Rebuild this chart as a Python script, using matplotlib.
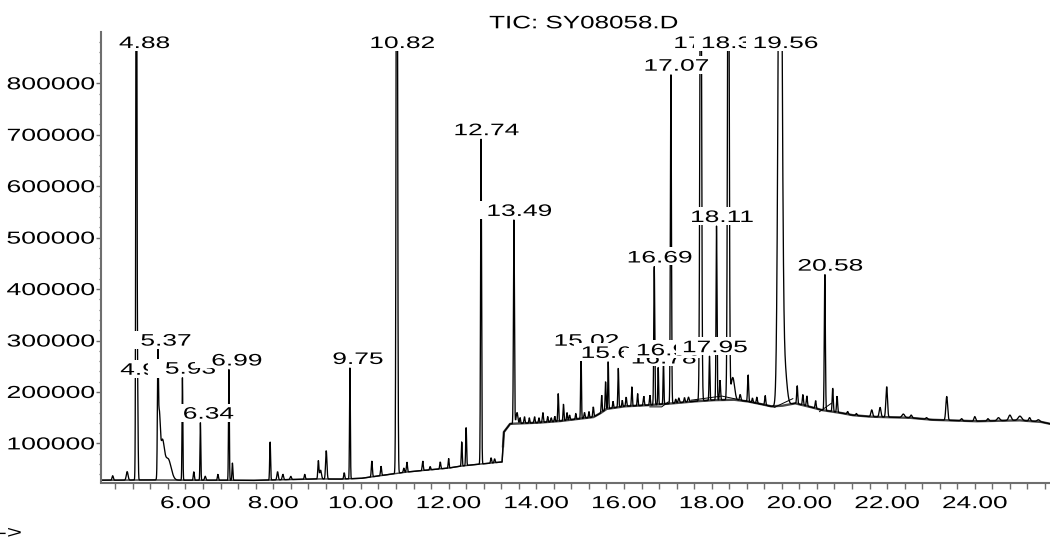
import numpy as np
import matplotlib
matplotlib.use("Agg")
import matplotlib.pyplot as plt
from matplotlib.patches import Rectangle
from matplotlib.patheffects import AbstractPathEffect
from matplotlib.transforms import (Affine2D, Bbox, TransformedBbox,
                                   ScaledTranslation)
from matplotlib.ticker import FixedLocator, MultipleLocator, FuncFormatter

plt.rcParams["font.family"] = ["Liberation Sans", "DejaVu Sans"]

# ---- total ion current: slowly drifting baseline (min, abundance) ----
base_times = [4.07, 4.5, 5.0, 6.0, 7.0, 7.5, 8.0, 8.5, 9.0, 9.5, 10.0, 10.5,
              11.0, 11.5, 12.0, 12.2, 12.5, 13.0, 13.22, 13.26, 13.4, 14.0,
              14.5, 15.0, 15.3, 15.45, 15.6, 16.0, 16.5, 17.0, 17.5, 18.0,
              18.5, 18.8, 19.1, 19.35, 19.6, 19.9, 20.2, 20.5, 20.9, 21.2,
              21.6, 22.5, 23.0, 24.0, 25.0, 25.5, 25.72]
base_levels = [28500, 28500, 29000, 28500, 28500, 28000, 29000, 30000, 31000,
               30500, 32000, 38000, 44000, 48000, 52000, 55000, 58000, 62000,
               64000, 122000, 138000, 140000, 143000, 148000, 151000, 158000,
               167000, 172000, 174000, 177000, 181000, 184000, 185000, 182000,
               177000, 172000, 173000, 178000, 172000, 165000, 160000, 155000,
               152000, 150000, 146000, 143000, 145000, 142000, 138000]

# ---- peaks: retention time (min), apex abundance, gaussian sigma (min) ----
peak_times = [4.34, 4.67, 4.88, 4.91, 5.37, 5.40, 5.47, 5.60, 5.93, 6.19,
              6.34, 6.45, 6.74, 6.99, 7.07, 7.93, 8.10, 8.22, 8.40, 8.72,
              9.03, 9.08, 9.21, 9.62, 9.75, 10.25, 10.46, 10.82, 10.98, 11.05,
              11.41, 11.58, 11.81, 12.00, 12.30, 12.40, 12.74, 12.97, 13.05,
              13.49, 13.56, 13.63, 13.73, 13.84, 13.96, 14.06, 14.15, 14.26,
              14.34, 14.42, 14.50, 14.62, 14.70, 14.76, 14.90, 15.02, 15.10,
              15.20, 15.30, 15.49, 15.58, 15.64, 15.75, 15.87, 15.96, 16.05,
              16.18, 16.31, 16.45, 16.59, 16.69, 16.78, 16.90, 17.07, 17.18,
              17.25, 17.38, 17.47, 17.75, 17.95, 18.11, 18.19, 18.38, 18.48,
              18.65, 18.83, 18.93, 19.03, 19.22, 19.56, 19.66, 19.95, 20.08,
              20.17, 20.37, 20.58, 20.76, 20.86, 21.10, 21.30, 21.65, 21.84,
              21.99, 22.37, 22.55, 22.90, 23.36, 23.70, 24.00, 24.30, 24.54,
              24.80, 25.03, 25.25, 25.45]
peak_apex = [37000, 45000, 1400000, 165000, 233000, 140000, 100000, 70000,
             229000, 45000, 141000, 36000, 40000, 245000, 62000, 103000, 45000,
             40000, 36000, 40000, 66000, 48000, 86000, 43000, 248000, 66000,
             56000, 1600000, 52000, 64000, 66000, 55000, 64000, 71000, 103000,
             131000, 694000, 72000, 70000, 536000, 160000, 150000, 152000,
             150000, 152000, 150000, 160000, 152000, 150000, 153000, 197000,
             176000, 160000, 155000, 158000, 283000, 160000, 162000, 171000,
             194000, 220000, 259000, 182000, 246000, 184000, 190000, 210000,
             197000, 192000, 194000, 445000, 248000, 264000, 819000, 186000,
             188000, 189000, 190000, 1300000, 270000, 524000, 223000, 1300000,
             228000, 195000, 233000, 188000, 190000, 193000, 1500000, 250000,
             212000, 195000, 192000, 183000, 429000, 207000, 192000, 162000,
             158000, 165000, 170000, 210000, 157000, 155000, 150000, 191000,
             148000, 152000, 148000, 150000, 155000, 153000, 150000, 146000]
peak_sigma = [0.015, 0.02, 0.012, 0.01, 0.011, 0.022, 0.045, 0.07, 0.009,
              0.012, 0.009, 0.015, 0.012, 0.009, 0.01, 0.01, 0.015, 0.015,
              0.015, 0.012, 0.012, 0.02, 0.015, 0.012, 0.009, 0.012, 0.012,
              0.015, 0.012, 0.012, 0.012, 0.012, 0.012, 0.01, 0.01, 0.01,
              0.011, 0.012, 0.012, 0.011, 0.02, 0.01, 0.012, 0.01, 0.012,
              0.01, 0.012, 0.01, 0.012, 0.01, 0.01, 0.01, 0.01, 0.012, 0.01,
              0.009, 0.012, 0.01, 0.012, 0.01, 0.01, 0.009, 0.01, 0.01, 0.01,
              0.012, 0.01, 0.01, 0.012, 0.01, 0.011, 0.009, 0.009, 0.012,
              0.012, 0.015, 0.012, 0.015, 0.018, 0.01, 0.011, 0.012, 0.018,
              0.04, 0.015, 0.012, 0.012, 0.012, 0.012, 0.04, 0.05, 0.012,
              0.012, 0.012, 0.012, 0.012, 0.012, 0.012, 0.015, 0.015, 0.02,
              0.02, 0.018, 0.03, 0.02, 0.02, 0.02, 0.02, 0.02, 0.02, 0.03,
              0.03, 0.04, 0.02, 0.03]

# ---- integrated peaks carrying a retention-time label ----
label_times = [4.88, 4.91, 5.37, 5.93, 6.34, 6.99, 9.75, 10.82, 12.74, 13.49,
               15.02, 15.64, 16.69, 16.78, 16.90, 17.07, 17.75, 17.95, 18.11,
               18.38, 19.56, 20.58]

# ---- straight integration baselines under clustered peaks ----
integ_times = [[16.59, 16.86, 17.01], [17.53, 18.23, 19.44],
               [19.44, 19.85], [20.46, 20.73]]
integ_levels = [[171000, 171000, 180700], [184000, 192000, 170500],
                [170500, 187000], [161800, 178000]]

x_major = [6, 8, 10, 12, 14, 16, 18, 20, 22, 24]
y_major = [100000, 200000, 300000, 400000, 500000, 600000, 700000, 800000]
title_text = "TIC: SY08058.D"


class WideText(AbstractPathEffect):
    """Draw glyphs stretched horizontally about an anchor point."""

    def __init__(self, factor=1.5, anchor="center"):
        super().__init__()
        self.factor = factor
        self.anchor = anchor

    def draw_path(self, renderer, gc, tpath, affine, rgbFace=None):
        ext = tpath.get_extents(affine)
        if self.anchor == "right":
            cx = ext.x1
        elif self.anchor == "left":
            cx = ext.x0
        else:
            cx = 0.5 * (ext.x0 + ext.x1)
        widen = Affine2D().translate(-cx, 0).scale(self.factor, 1.0).translate(cx, 0)
        renderer.draw_path(gc, tpath, affine + widen, rgbFace)


W, H = 1050, 540
DPI = 100
fig = plt.figure(figsize=(W / DPI, H / DPI), dpi=DPI)
ax_left, ax_right, ax_top, ax_bottom = 101, 1050, 32.5, 482.5
ax = fig.add_axes([ax_left / W, 1 - ax_bottom / H,
                   (ax_right - ax_left) / W, (ax_bottom - ax_top) / H])

xmin, xmax = 4.073, 25.715
ymin, ymax = 24000, 898750

# chromatogram trace built from the baseline and the peak table
t = np.arange(xmin, xmax, 0.002)
baseline = np.interp(t, base_times, base_levels).astype(float)
trace = baseline.copy()
for pt, pa, ps in zip(peak_times, peak_apex, peak_sigma):
    amp = pa - np.interp(pt, base_times, base_levels)
    trace += amp * np.exp(-0.5 * ((t - pt) / ps) ** 2)

# noise band along the baseline, wider once the baseline has stepped up
early = t < 13.24
ax.plot(t[early], baseline[early], color="#3c3c3c", lw=1.05, zorder=1.8)
ax.plot(t[~early], baseline[~early], color="#4a4a4a", lw=1.7, zorder=1.8)

trace_line, = ax.plot(t, trace, color="black", lw=0.95, zorder=2,
                      solid_joinstyle="miter")
trace_line.set_clip_box(TransformedBbox(Bbox([[0, 0], [1, 0.995]]),
                                        ax.transAxes))
for it, il in zip(integ_times, integ_levels):
    ax.plot(it, il, color="black", lw=0.7, zorder=3)

ax.set_xlim(xmin, xmax)
ax.set_ylim(ymin, ymax)

# axes styling; the frame stays above the label plates
for side in ("top", "right"):
    ax.spines[side].set_visible(False)
for side in ("left", "bottom"):
    ax.spines[side].set_color("#6e6e6e")
    ax.spines[side].set_linewidth(1.5)
    ax.spines[side].set_zorder(100)

ax.xaxis.set_major_locator(FixedLocator(x_major))
ax.xaxis.set_minor_locator(MultipleLocator(0.4))
ax.xaxis.set_major_formatter(FuncFormatter(lambda v, p: f"{v:.2f}"))
ax.yaxis.set_major_locator(FixedLocator(y_major))
ax.yaxis.set_minor_locator(MultipleLocator(20000))
ax.yaxis.set_major_formatter(FuncFormatter(lambda v, p: f"{int(round(v))}"))

ax.tick_params(axis="x", which="both", direction="out", length=4.6, width=1.0,
               color="#6e6e6e", labelsize=12.5, pad=5.2)
ax.tick_params(axis="y", which="major", direction="out", length=3.8, width=1.0,
               color="#6e6e6e", labelsize=12.5, pad=0.8)
ax.tick_params(axis="y", which="minor", direction="out", length=1.8, width=0.9,
               color="#6e6e6e")

for lab in ax.get_xticklabels():
    lab.set_path_effects([WideText(1.51, "center")])
for lab in ax.get_yticklabels():
    lab.set_path_effects([WideText(1.53, "right")])

# retention-time labels: each sits on an opaque white plate just above the
# trace at its peak (capped below the frame top); later labels cover earlier
label_fx = WideText(1.58, "center")
top_clamp = 860800
plate_left, plate_right = -34.0, 38.0      # pixels from the peak
plate_bottom, plate_top = 1.0, 19.0        # pixels above the anchor
for k, lt in enumerate(label_times):
    yv = min(float(np.interp(lt, t, trace)), top_clamp)
    text = f"{lt:.2f}"
    anchor = fig.dpi_scale_trans + ScaledTranslation(lt, yv, ax.transData)
    plate = Rectangle((plate_left / DPI, plate_bottom / DPI),
                      (plate_right - plate_left) / DPI,
                      (plate_top - plate_bottom) / DPI,
                      transform=anchor, facecolor="white", edgecolor="none",
                      zorder=10 + 2 * k, clip_on=False)
    ax.add_patch(plate)
    dx = 8.0 if len(text) == 4 else 5.5
    ann = ax.annotate(text, xy=(lt, yv), xytext=(dx * 72 / DPI, 4.0 * 72 / DPI),
                      textcoords="offset points", ha="center", va="baseline",
                      fontsize=12, color="black", zorder=11 + 2 * k,
                      annotation_clip=False)
    ann.set_path_effects([label_fx])

title = fig.text(583.3 / W, 1 - 28.3 / H, title_text, ha="center",
                 va="baseline", fontsize=13, color="black")
title.set_path_effects([WideText(1.44, "center")])

arrow = fig.text(-1.5 / W, 1 - 533.5 / H, "->", ha="left", va="center",
                 fontsize=12.5, color="black")
arrow.set_path_effects([WideText(1.5, "left")])

fig.savefig("out.png", dpi=DPI, facecolor="white")
